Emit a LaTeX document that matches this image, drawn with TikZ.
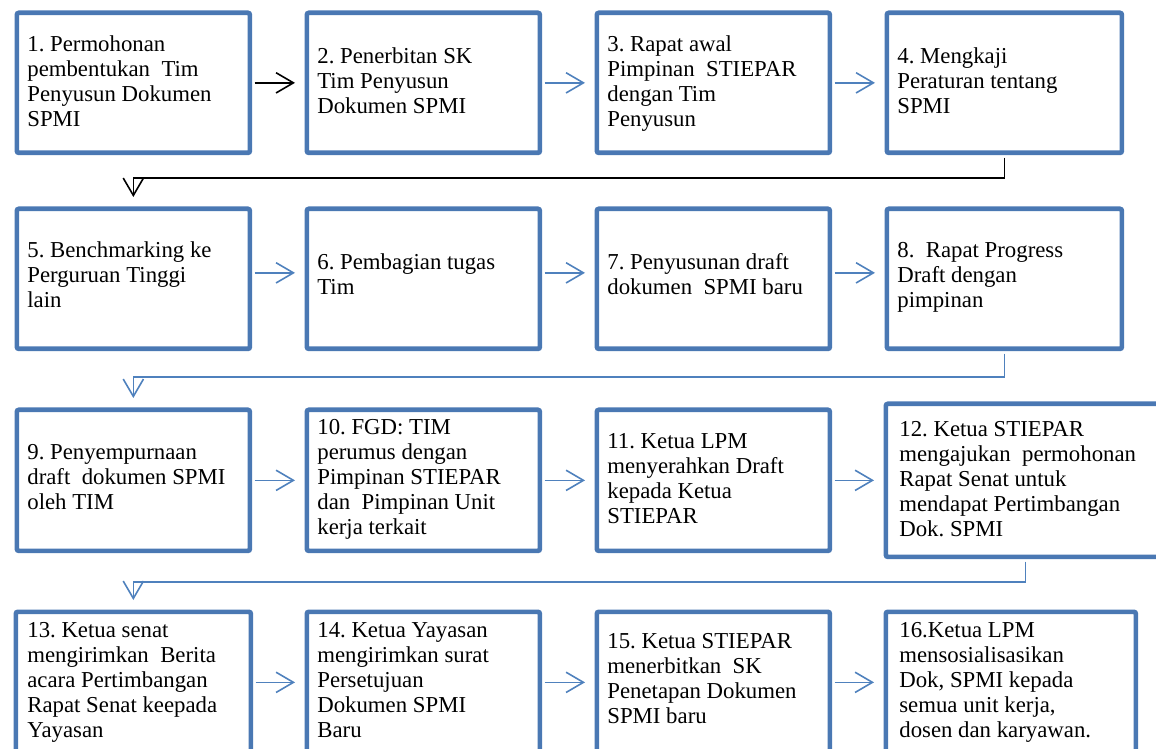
\documentclass[tikz,border=0pt]{standalone}
\usepackage{fontspec}
\setmainfont{Liberation Serif}
\usetikzlibrary{arrows.meta}
\definecolor{boxblue}{HTML}{4A78B3}
\definecolor{linkblue}{HTML}{4F81BD}
\newcommand{\pxl}{0.553pt}
\frenchspacing

\begin{document}
\begin{tikzpicture}[x=\pxl, y=-\pxl,
  box/.style={draw=boxblue, line width=4.7*\pxl, rounded corners=2*\pxl, anchor=north west,
    inner sep=0, minimum width=233*\pxl, minimum height=140*\pxl},
  txt/.style={anchor=north west, align=left, inner sep=0, font=\fontsize{12.6pt}{13.8pt}\selectfont},
  arr/.style={line width=1.6*\pxl, -{Straight Barb[length=9.6pt, width=11.2pt, line width=1.6*\pxl]},
    shorten <=2.4*\pxl, shorten >=9.5*\pxl},
  ark/.style={arr, black},
  arb/.style={arr, linkblue}
]
  \useasboundingbox (0,0) rectangle (1156,749);
  \clip (0,0) rectangle (1156,749);

  % row 1
  \node[box] (b1) at (14.5,10.5) {};
  \node[box] (b2) at (304.5,10.5) {};
  \node[box] (b3) at (594.5,10.5) {};
  \node[box, minimum width=235*\pxl] (b4) at (884.5,10.5) {};
  \node[txt] (t1) at (27,34) {\strut 1. Permohonan\\pembentukan~ Tim\\Penyusun Dokumen\\SPMI};
  \node[txt] (t2) at (317,46) {\strut 2. Penerbitan SK\\Tim Penyusun\\Dokumen SPMI};
  \node[txt] (t3) at (607,34) {\strut 3. Rapat awal\\Pimpinan~ STIEPAR\\dengan Tim\\Penyusun};
  \node[txt] (t4) at (897,46) {\strut 4. Mengkaji\\Peraturan tentang\\SPMI};

  % row 2
  \node[box] (b5) at (14.5,206.5) {};
  \node[box] (b6) at (304.5,206.5) {};
  \node[box] (b7) at (594.5,206.5) {};
  \node[box, minimum width=235*\pxl] (b8) at (884.5,206.5) {};
  \node[txt] (t5) at (27,239.5) {\strut 5. Benchmarking ke\\Perguruan Tinggi\\lain};
  \node[txt] (t6) at (317,252) {\strut 6. Pembagian tugas\\Tim};
  \node[txt] (t7) at (607,252) {\strut 7. Penyusunan draft\\dokumen~ SPMI baru};
  \node[txt] (t8) at (897,239.5) {\strut 8.~ Rapat Progress\\Draft dengan\\pimpinan};

  % row 3
  \node[box, minimum height=141*\pxl] (b9) at (14.5,407.5) {};
  \node[box, minimum height=141*\pxl] (b10) at (304.5,407.5) {};
  \node[box, minimum height=141*\pxl] (b11) at (594.5,407.5) {};
  \node[box, minimum width=279*\pxl, minimum height=153*\pxl] (b12) at (883.5,401.5) {};
  \node[txt] (t9) at (27,441.5) {\strut 9. Penyempurnaan\\draft~ dokumen SPMI\\oleh TIM};
  \node[txt] (t10) at (317,417) {\strut 10. FGD: TIM\\perumus dengan\\Pimpinan STIEPAR\\dan~ Pimpinan Unit\\kerja terkait};
  \node[txt] (t11) at (607,430.5) {\strut 11. Ketua LPM\\menyerahkan Draft\\kepada Ketua\\STIEPAR};
  \node[txt] (t12) at (899,418.5) {\strut 12. Ketua STIEPAR\\mengajukan~ permohonan\\Rapat Senat untuk\\mendapat Pertimbangan\\Dok. SPMI};

  % row 4
  \node[box, minimum width=235*\pxl, minimum height=141*\pxl] (b13) at (13.5,609.5) {};
  \node[box, minimum height=141*\pxl] (b14) at (304.5,609.5) {};
  \node[box, minimum height=141*\pxl] (b15) at (594.5,609.5) {};
  \node[box, minimum width=250*\pxl, minimum height=141*\pxl] (b16) at (883.5,609.5) {};
  \node[txt] (t13) at (27,620) {\strut 13. Ketua senat\\mengirimkan~ Berita\\acara Pertimbangan\\Rapat Senat keepada\\Yayasan};
  \node[txt] (t14) at (317,620) {\strut 14. Ketua Yayasan\\mengirimkan surat\\Persetujuan\\Dokumen SPMI\\Baru};
  \node[txt] (t15) at (607,631) {\strut 15. Ketua STIEPAR\\menerbitkan~ SK\\Penetapan Dokumen\\SPMI baru};
  \node[txt] (t16) at (899,620) {\strut 16.Ketua LPM\\mensosialisasikan\\Dok, SPMI kepada\\semua unit kerja,\\dosen dan karyawan.};

  % arrows along the rows
  \draw[ark] (b1.east) -- (b2.west);
  \draw[arb] (b2.east) -- (b3.west);
  \draw[arb] (b3.east) -- (b4.west);
  \draw[arb] ([yshift=6*\pxl]b5.east) -- ([yshift=6*\pxl]b6.west);
  \draw[arb] ([yshift=6*\pxl]b6.east) -- ([yshift=6*\pxl]b7.west);
  \draw[arb] ([yshift=6*\pxl]b7.east) -- ([yshift=6*\pxl]b8.west);
  \draw[arb] (b9.east) -- (b10.west);
  \draw[arb] (b10.east) -- (b11.west);
  \draw[arb] (b11.east) -- (b12.west);
  \draw[arb] (b13.east) -- (b14.west);
  \draw[arb] (b14.east) -- (b15.west);
  \draw[arb] (b15.east) -- (b16.west);

  % arrows between the rows
  \draw[ark] (b4.south) -- (b4.south |- 0,178) -| (b5.north);
  \draw[arb] (b8.south) -- (b8.south |- 0,377) -| (b9.north);
  \draw[arb] (b12.south) -- (b12.south |- 0,582) -| (b13.north);
\end{tikzpicture}
\end{document}
